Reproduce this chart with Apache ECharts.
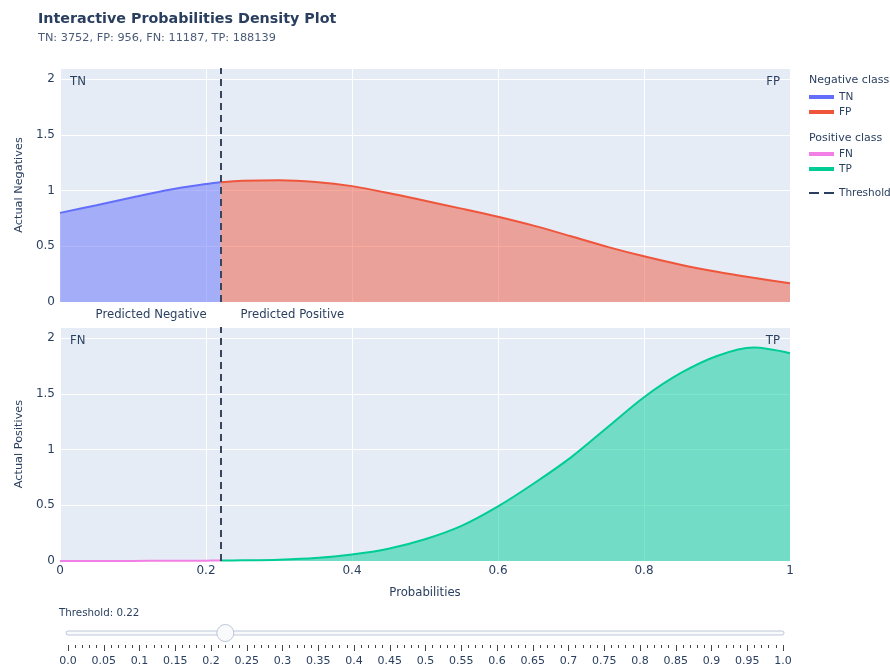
<!DOCTYPE html>
<html><head><meta charset="utf-8">
<script src="https://cdn.jsdelivr.net/npm/echarts@6/dist/echarts.min.js"></script>
<style>html,body{margin:0;padding:0;background:#fff}#c{width:890px;height:669px}</style>
</head><body><div id="c"></div>
<script>
// ---- data ----
const probX      = [0, 0.05, 0.1, 0.15, 0.2, 0.22, 0.25, 0.3, 0.35, 0.4, 0.45, 0.5, 0.55, 0.6, 0.65, 0.7, 0.75, 0.8, 0.85, 0.9, 0.95, 1.0];
const negDensity = [0.80, 0.868, 0.94, 1.007, 1.058, 1.075, 1.088, 1.093, 1.078, 1.04, 0.978, 0.908, 0.838, 0.765, 0.683, 0.59, 0.495, 0.41, 0.335, 0.272, 0.218, 0.168];
const posDensity = [0, 0.001, 0.001, 0.002, 0.003, 0.004, 0.006, 0.012, 0.026, 0.058, 0.11, 0.195, 0.315, 0.49, 0.7, 0.93, 1.2, 1.47, 1.685, 1.84, 1.915, 1.865];
const threshold  = 0.22;
const countNames  = ['TN', 'FP', 'FN', 'TP'];
const countValues = [3752, 956, 11187, 188139];
const yTicks = [0, 0.5, 1, 1.5, 2];
const xTicks = [0, 0.2, 0.4, 0.6, 0.8, 1];
const sliderTicks = ['0.0','0.05','0.1','0.15','0.2','0.25','0.3','0.35','0.4','0.45','0.5','0.55','0.6','0.65','0.7','0.75','0.8','0.85','0.9','0.95','1.0'];

// ---- build ----
const negPairs = probX.map((x, i) => [x, negDensity[i]]);
const posPairs = probX.map((x, i) => [x, posDensity[i]]);
const tnData = negPairs.filter(p => p[0] <= threshold);
const fpData = negPairs.filter(p => p[0] >= threshold);
const fnData = posPairs.filter(p => p[0] <= threshold);
const tpData = posPairs.filter(p => p[0] >= threshold);

const FONT = '"DejaVu Sans", Verdana, sans-serif';
const TXT = '#2a3f5f';
const C = {TN: '#636EFA', FP: '#EF553B', FN: '#F27FE6', TP: '#00CC96', TH: '#2a3f5f'};

const subtitle = countNames.map((n, i) => n + ': ' + countValues[i]).join(', ');

function areaSeries(name, data, color, axisIdx, withMark) {
  const s = {
    name, type: 'line', data, xAxisIndex: axisIdx, yAxisIndex: axisIdx,
    smooth: 0.3, showSymbol: false, symbol: 'none', color,
    lineStyle: {color, width: 2},
    areaStyle: {color, opacity: 0.5},
    itemStyle: {color}, z: 2
  };
  if (withMark) {
    s.markLine = {
      silent: true, symbol: ['none', 'none'], label: {show: false},
      lineStyle: {color: '#37465c', type: [7, 5], width: 2},
      data: [{xAxis: threshold}], z: 5, animation: false
    };
  }
  return s;
}

function yAxisDef(idx, name) {
  return {
    gridIndex: idx, type: 'value', min: 0, max: 2.1, interval: 0.5,
    axisLine: {show: false}, axisTick: {show: false},
    axisLabel: {color: TXT, fontFamily: FONT, fontSize: 12, margin: 5, showMaxLabel: false,
      formatter: v => (yTicks.indexOf(v) >= 0 ? String(v) : '')},
    splitLine: {lineStyle: {color: '#ffffff', width: 1}},
    name, nameLocation: 'middle', nameGap: 35, nameRotate: 90,
    nameTextStyle: {color: TXT, fontFamily: FONT, fontSize: 11.3}
  };
}
function xAxisDef(idx, showLabels) {
  return {
    gridIndex: idx, type: 'value', min: 0, max: 1, interval: 0.2,
    axisLine: {show: false}, axisTick: {show: false},
    axisLabel: {show: showLabels, color: TXT, fontFamily: FONT, fontSize: 12, margin: 4,
      formatter: v => (xTicks.indexOf(v) >= 0 ? String(v) : '')},
    splitLine: {lineStyle: {color: '#ffffff', width: 1}},
    name: showLabels ? 'Probabilities' : '', nameLocation: 'middle', nameGap: 26,
    nameTextStyle: {color: TXT, fontFamily: FONT, fontSize: 11.7}
  };
}

const chart = echarts.init(document.getElementById('c'), null, {renderer: 'canvas'});
const legendBase = {orient: 'vertical', left: 809, padding: 0, itemGap: 3, itemWidth: 25, itemHeight: 4,
  icon: 'rect', textStyle: {color: TXT, fontFamily: FONT, fontSize: 10.5, lineHeight: 12}, selectedMode: false};

chart.setOption({
  animation: false,
  backgroundColor: '#ffffff',
  title: {
    text: 'Interactive Probabilities Density Plot', subtext: subtitle,
    left: 38, top: 12, itemGap: 7, padding: 0,
    textStyle: {color: TXT, fontFamily: FONT, fontSize: 14.3, fontWeight: 'bold'},
    subtextStyle: {color: '#4a5b78', fontFamily: FONT, fontSize: 11.3}
  },
  grid: [
    {left: 60, top: 68, width: 730, height: 234, show: true, backgroundColor: '#E5ECF6', borderWidth: 0},
    {left: 60, top: 327, width: 730, height: 234, show: true, backgroundColor: '#E5ECF6', borderWidth: 0},
    {left: 68, top: 644, width: 715, height: 1, show: false}
  ],
  xAxis: [
    xAxisDef(0, false),
    xAxisDef(1, true),
    {gridIndex: 2, type: 'value', min: 0, max: 1, interval: 0.05,
      axisLine: {show: false}, splitLine: {show: false},
      axisTick: {show: true, length: 6, lineStyle: {color: '#444', width: 1}},
      minorTick: {show: true, splitNumber: 5, length: 3, lineStyle: {color: '#444', width: 1}},
      axisLabel: {color: TXT, fontFamily: FONT, fontSize: 11, margin: 11,
        formatter: v => sliderTicks[Math.round(v / 0.05)]}}
  ],
  yAxis: [
    yAxisDef(0, 'Actual Negatives'),
    yAxisDef(1, 'Actual Positives'),
    {gridIndex: 2, type: 'value', min: 0, max: 1, show: false}
  ],
  legend: [
    Object.assign({}, legendBase, {top: 91, data: ['TN', 'FP']}),
    Object.assign({}, legendBase, {top: 148, data: ['FN', 'TP']}),
    Object.assign({}, legendBase, {top: 187, data: ['Threshold'], itemHeight: 2,
      icon: 'path://M0,0H10V2H0Z M15,0H25V2H15Z'})
  ],
  series: [
    areaSeries('TN', tnData, C.TN, 0, true),
    areaSeries('FP', fpData, C.FP, 0, false),
    areaSeries('FN', fnData, C.FN, 1, true),
    areaSeries('TP', tpData, C.TP, 1, false),
    {name: 'Threshold', type: 'line', data: [], xAxisIndex: 0, yAxisIndex: 0, color: C.TH,
      itemStyle: {color: C.TH}, lineStyle: {color: C.TH, type: 'dashed', width: 2}}
  ]
});

// ---- annotations & slider (positions from the chart's own scales) ----
const thTop = chart.convertToPixel({gridIndex: 0}, [threshold, 0]);
const pLeft = chart.convertToPixel({gridIndex: 0}, [0, 2.1]);
const pRight = chart.convertToPixel({gridIndex: 0}, [1, 2.1]);
const qLeft = chart.convertToPixel({gridIndex: 1}, [0, 2.1]);
const sHandle = chart.convertToPixel({gridIndex: 2}, [threshold, 0]);
const s0 = chart.convertToPixel({gridIndex: 2}, [0, 0]);
const s1 = chart.convertToPixel({gridIndex: 2}, [1, 0]);
const ts = {fill: TXT, font: '11.7px ' + FONT};
const tsG = {fill: TXT, font: '11px ' + FONT};
const tsS = {fill: TXT, font: '10.3px ' + FONT};
chart.setOption({
  graphic: [
    {type: 'text', left: pLeft[0] + 10, top: pLeft[1] + 8, style: Object.assign({text: 'TN'}, ts)},
    {type: 'text', right: 890 - pRight[0] + 10, top: pRight[1] + 8, style: Object.assign({text: 'FP'}, ts)},
    {type: 'text', left: qLeft[0] + 10, top: qLeft[1] + 8, style: Object.assign({text: 'FN'}, ts)},
    {type: 'text', right: 890 - pRight[0] + 10, top: qLeft[1] + 8, style: Object.assign({text: 'TP'}, ts)},
    {type: 'text', x: thTop[0] - 14, y: 315, style: Object.assign({text: 'Predicted Negative', align: 'right', verticalAlign: 'middle'}, ts)},
    {type: 'text', x: thTop[0] + 20, y: 315, style: Object.assign({text: 'Predicted Positive', align: 'left', verticalAlign: 'middle'}, ts)},
    {type: 'text', x: 809, y: 80, style: Object.assign({text: 'Negative class', verticalAlign: 'middle'}, tsG)},
    {type: 'text', x: 809, y: 138, style: Object.assign({text: 'Positive class', verticalAlign: 'middle'}, tsG)},
    {type: 'text', x: 59, y: 613, style: Object.assign({text: 'Threshold: ' + threshold, verticalAlign: 'middle'}, tsS)},
    {type: 'rect', shape: {x: s0[0] - 2, y: 631, width: s1[0] - s0[0] + 3, height: 4, r: 2},
      style: {fill: '#F8FAFC', stroke: '#BEC8D9', lineWidth: 1}},
    {type: 'circle', shape: {cx: sHandle[0], cy: 633, r: 8.5},
      style: {fill: '#F8FAFC', stroke: '#BEC8D9', lineWidth: 1}}
  ]
});
</script>
</body></html>
